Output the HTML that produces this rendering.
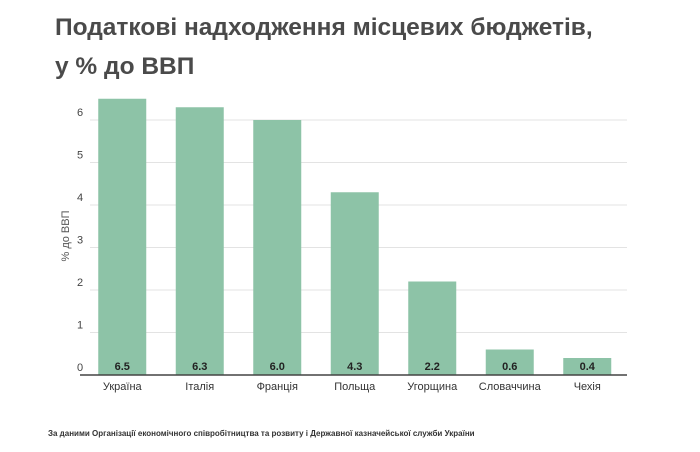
<!DOCTYPE html>
<html><head><meta charset="utf-8"><style>
body{margin:0;background:#fff;font-family:"Liberation Sans",sans-serif;}
svg{display:block}
</style></head><body>
<svg width="700" height="452" xmlns="http://www.w3.org/2000/svg">
<text x="55" y="35" font-size="24.5" font-weight="bold" fill="#4a4a4a">Податкові надходження місцевих бюджетів,</text>
<text x="55" y="74" font-size="24.5" font-weight="bold" fill="#4a4a4a">у % до ВВП</text>
<text transform="translate(69,236) rotate(-90)" text-anchor="middle" font-size="11" fill="#555">% до ВВП</text>
<g id="grid"></g>
<g id="bars"></g>
<line x1="80" y1="375" x2="627" y2="375" stroke="#444" stroke-width="1.5"/>
<text x="48" y="436" font-size="8" font-weight="bold" fill="#333">За даними Організації економічного співробітництва та розвиту і Державної казначейської служби України</text>
</svg>
<script>
const categories=["Україна","Італія","Франція","Польща","Угорщина","Словаччина","Чехія"];
const values=[6.5,6.3,6.0,4.3,2.2,0.6,0.4];
const valueLabels=["6.5","6.3","6.0","4.3","2.2","0.6","0.4"];
const yTicks=[0,1,2,3,4,5,6];
const NS="http://www.w3.org/2000/svg";
const x0=83.5,band=77.5,bw=48,y0=375,ppu=42.5;
const xs=i=>x0+band*i+band/2;
const ys=v=>y0-v*ppu;
const grid=document.getElementById('grid'),bars=document.getElementById('bars');
function mk(tag,attrs,parent){const e=document.createElementNS(NS,tag);for(const k in attrs)e.setAttribute(k,attrs[k]);parent.appendChild(e);return e;}
yTicks.forEach(t=>{
  if(t>0){const l=mk('line',{x1:90,x2:627,y1:ys(t),y2:ys(t),stroke:'#e3e3e3','stroke-width':1},grid);
  
  }
  const tx=mk('text',{x:77,y:ys(t)-4,'font-size':11,fill:'#444'},grid);
  tx.textContent=t;
  
  
});
categories.forEach((c,i)=>{
  const r=mk('rect',{x:xs(i)-bw/2,y:ys(values[i]),width:bw,height:values[i]*ppu,fill:'#8dc3a7'},bars);
  
  
  const v=mk('text',{x:xs(i),y:y0-5,'text-anchor':'middle','font-size':11,'font-weight':'bold',fill:'#222'},bars);
  v.textContent=valueLabels[i];
  
  
  const l=mk('text',{x:xs(i),y:y0+15,'text-anchor':'middle','font-size':11,fill:'#333'},bars);
  l.textContent=c;
  
  
});
</script>
</body></html>
